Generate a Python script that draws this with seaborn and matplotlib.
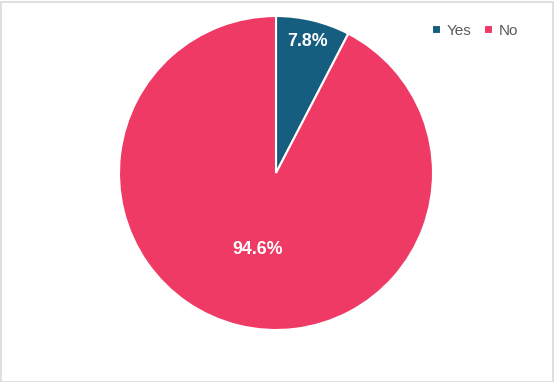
import numpy as np
import matplotlib
matplotlib.use("Agg")
import matplotlib.pyplot as plt
import seaborn as sns
from matplotlib.patches import Rectangle

categories = ["Yes", "No"]
values = [7.8, 94.6]
label_texts = ["7.8%", "94.6%"]
colors = ["#165E80", "#EE3A64"]
label_radii = [0.86, 0.5]

sns.set_theme(style="white")
plt.rcParams['font.family'] = ['Liberation Sans', 'DejaVu Sans']

fig = plt.figure(figsize=(5.54, 3.82), dpi=100)
fig.patch.set_facecolor("white")
ax = fig.add_axes([0.2148, 0.1361, 0.5668, 0.822])

wedges, _ = ax.pie(values, colors=colors, startangle=90, counterclock=False,
                   radius=1.0, wedgeprops=dict(edgecolor="white", linewidth=1.5))
ax.set_xlim(-1, 1)
ax.set_ylim(-1, 1)
ax.set_aspect("equal")
ax.axis("off")

for w, txt, r in zip(wedges, label_texts, label_radii):
    ang = np.deg2rad((w.theta1 + w.theta2) / 2)
    ax.text(r * np.cos(ang), r * np.sin(ang), txt, ha="center", va="center",
            color="white", fontsize=12.8, fontweight="bold")

leg = fig.legend(wedges, categories, loc="center", bbox_to_anchor=(475 / 554, 1 - 31 / 382),
                 ncol=2, frameon=False, fontsize=11, handlelength=0.6, handleheight=0.6,
                 handletextpad=0.4, columnspacing=0.8, labelcolor="#595959")

fig.add_artist(Rectangle((0.5 / 554, 0.5 / 382), 1 - 2 / 554, 1 - 2 / 382,
                         transform=fig.transFigure, fill=False, edgecolor="#D9D9D9", linewidth=1.2))

fig.savefig("out.png", dpi=100)
